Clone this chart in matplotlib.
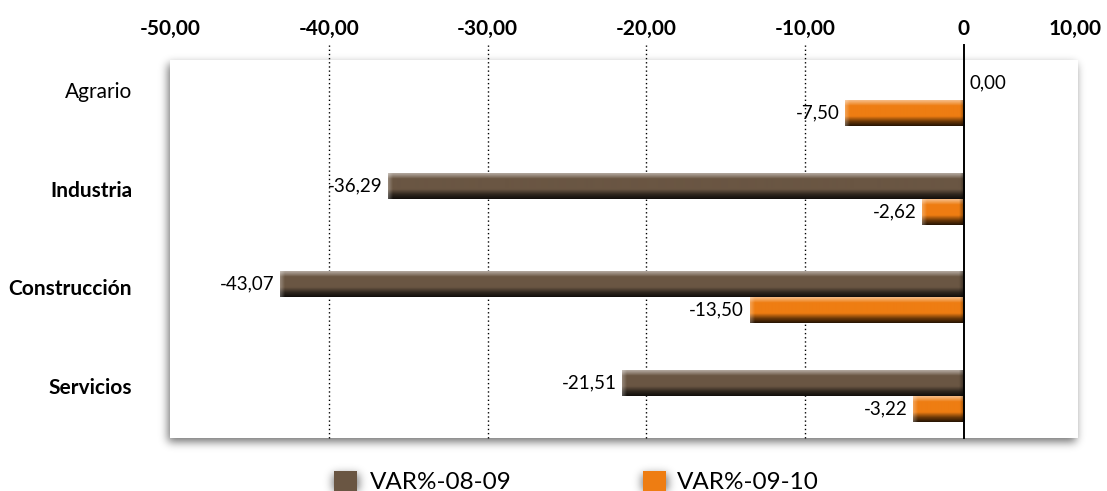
import numpy as np
import matplotlib
matplotlib.use("Agg")
import matplotlib.pyplot as plt
from matplotlib.patches import Rectangle
import matplotlib.transforms as mtransforms
from matplotlib.colors import to_rgb

# ---------------- data ----------------
categories = ["Agrario", "Industria", "Construcción", "Servicios"]
label_bold = [False, True, True, True]
var_08_09 = [0.00, -36.29, -43.07, -21.51]
var_09_10 = [-7.50, -2.62, -13.50, -3.22]
series_names = ["VAR%-08-09", "VAR%-09-10"]
tick_values = [-50, -40, -30, -20, -10, 0]
tick_labels = ["-50,00", "-40,00", "-30,00", "-20,00", "-10,00", "0"]
extra_tick_label = "10,00"

BROWN = "#6A5643"
ORANGE = "#EE7D12"

W, H, DPI = 1107, 491, 100
fig = plt.figure(figsize=(W / DPI, H / DPI), dpi=DPI)
fig.patch.set_facecolor("white")
plt.rcParams["font.family"] = ["Lato", "DejaVu Sans"]

# plot box in pixels
BX0, BX1, BY0, BY1 = 170, 1078, 60, 438


def blur(a, sigma):
    r = int(3 * sigma)
    k = np.exp(-0.5 * (np.arange(-r, r + 1) / sigma) ** 2)
    k /= k.sum()
    a = np.apply_along_axis(lambda m: np.convolve(m, k, mode="same"), 0, a)
    a = np.apply_along_axis(lambda m: np.convolve(m, k, mode="same"), 1, a)
    return a


# ---------------- shadows (background layer) ----------------
mask = np.zeros((H, W))
dx, dy = -2, 4
mask[BY0 + dy:BY1 + dy, BX0 + dx:BX1 + dx] = 1.0
mask[471 + 3:491 + 6, 334 - 1:357 + 2] = 1.0
mask[471 + 3:491 + 6, 643 - 1:666 + 2] = 1.0
sh = blur(mask, 4.5)
rgba = np.zeros((H, W, 4))
rgba[..., 3] = 0.55 * sh
bg = fig.add_axes([0, 0, 1, 1])
bg.imshow(rgba, extent=(0, W, H, 0), interpolation="bilinear", aspect="auto")
bg.set_xlim(0, W)
bg.set_ylim(H, 0)
bg.axis("off")
bg.set_zorder(0)

# ---------------- main axes ----------------
ax = fig.add_axes([BX0 / W, (H - BY1) / H, (BX1 - BX0) / W, (BY1 - BY0) / H])
ax.set_zorder(1)
ax.set_facecolor("white")
for s in ax.spines.values():
    s.set_visible(False)

XMIN = -50
ppu = (964 - BX0) / 50.0
XMAX = (BX1 - 964) / ppu
spacing = 98.7
YTOP = -(100 - BY0) / spacing
YBOT = 3 + (BY1 - 396) / spacing
bar_h = 26 / spacing

ypos = np.arange(len(categories))


def shaded_bar(value, y0, y1, color):
    wpx = int(round(abs(value) * ppu))
    if wpx < 1:
        return
    hpx = 26
    base = np.array(to_rgb(color))
    t = (np.arange(hpx) + 0.5) / hpx
    L = np.interp(t, [0, 0.06, 0.22, 0.62, 0.82, 1.0], [0.5, 0.38, 0.0, 0.0, -0.55, -0.85])
    col = np.zeros((hpx, wpx, 3))
    for i in range(hpx):
        if L[i] >= 0:
            c = base + (1 - base) * L[i]
        else:
            c = base * (1 + L[i])
        col[i, :, :] = c
    xs = np.arange(wpx) + 0.5
    left_hl = np.clip(1 - xs / 5.0, 0, 1) * 0.3
    right_dk = np.clip(1 - (wpx - xs) / 5.0, 0, 1) * 0.45
    col = col + (1 - col) * left_hl[None, :, None]
    col = col * (1 - right_dk[None, :, None])
    ax.imshow(np.clip(col, 0, 1), extent=(value, 0, y1, y0), origin="upper",
              aspect="auto", interpolation="bilinear", zorder=3)


for i, y in enumerate(ypos):
    shaded_bar(var_08_09[i], y - bar_h, y, BROWN)
    shaded_bar(var_09_10[i], y, y + bar_h, ORANGE)

ax.set_xlim(XMIN, XMAX)
ax.set_ylim(YBOT, YTOP)
ax.set_xticks([])
ax.set_yticks([])

ext = 15 / (BY1 - BY0)
for v in tick_values[1:-1]:
    ax.axvline(v, ymin=0, ymax=1 + ext, color="black", lw=1.0,
               linestyle=(0, (1, 2)), clip_on=False, zorder=2)
ax.axvline(0, ymin=0, ymax=1 + ext, color="black", lw=1.4, clip_on=False, zorder=4)

# top tick labels
trans_top = mtransforms.blended_transform_factory(ax.transData, ax.transAxes)
ybase = (BY1 - 35) / (BY1 - BY0)
for v, lab in zip(tick_values, tick_labels):
    ax.text(v, ybase, lab, transform=trans_top, ha="center", va="baseline",
            fontsize=15, fontweight="bold", color="black", clip_on=False)
ax.text(XMAX - 0.2, ybase, extra_tick_label, transform=trans_top, ha="center",
        va="baseline", fontsize=15, fontweight="bold", color="black", clip_on=False)

# category labels
trans_left = mtransforms.blended_transform_factory(ax.transAxes, ax.transData)
for i, (cat, b) in enumerate(zip(categories, label_bold)):
    ax.text(-(BX0 - 132) / (BX1 - BX0), ypos[i] - 0.08, cat, transform=trans_left,
            ha="right", va="center", fontsize=15,
            fontweight="bold" if b else "normal", color="black", clip_on=False)


def fmt(v):
    return f"{v:.2f}".replace(".", ",")


for i, y in enumerate(ypos):
    for v, yc in ((var_08_09[i], y - bar_h / 2), (var_09_10[i], y + bar_h / 2)):
        if v < 0:
            ax.annotate(fmt(v), (v, yc), xytext=(-4, 0), textcoords="offset points",
                        ha="right", va="center", fontsize=13.5, color="black", zorder=5)
        else:
            ax.annotate(fmt(v), (v, yc), xytext=(4, 3), textcoords="offset points",
                        ha="left", va="center", fontsize=13.5, color="black", zorder=5)

# legend
for (x0, tx), name, c in zip(((334, 370), (643, 677)), series_names, (BROWN, ORANGE)):
    fig.patches.append(Rectangle((x0 / W, 0), 23 / W, (491 - 471) / H,
                                 transform=fig.transFigure, facecolor=c,
                                 edgecolor="none", zorder=5))
    fig.text(tx / W, (H - 489) / H, name, ha="left", va="baseline",
             fontsize=17.5, color="black", zorder=6)

fig.savefig("out.png", dpi=DPI, facecolor="white")
